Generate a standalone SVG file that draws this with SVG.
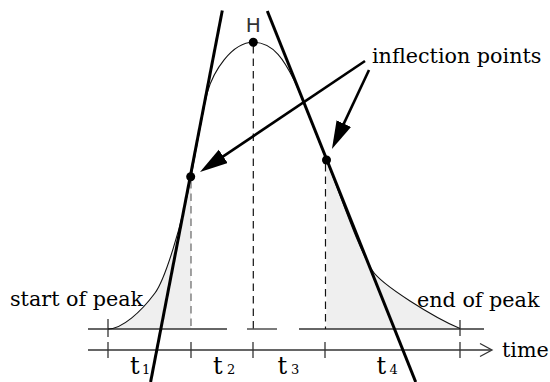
<svg xmlns="http://www.w3.org/2000/svg" width="550" height="382" viewBox="0 0 550 382">
<style>
.serif{font-family:"DejaVu Serif","Liberation Serif",serif;fill:#000;}
.lbl{font-size:20.7px;}
.tl{font-size:24px;}
.sub{font-size:13px;}
.axis{stroke:#333;stroke-width:1.3;fill:none;}
.dash{stroke:#111;stroke-width:1.2;stroke-dasharray:7.5 5;fill:none;}
.tan{stroke:#000;stroke-width:3;fill:none;}
.arr{stroke:#000;stroke-width:2.6;fill:none;}
.shade{fill:#efefef;stroke:none;}
.curve{stroke:#111;stroke-width:1.1;fill:none;}
</style>
<defs>
<marker id="head" markerUnits="userSpaceOnUse" markerWidth="30" markerHeight="18" refX="18" refY="8" orient="auto">
<path d="M0,0 L28,8 L0,16 Z" fill="#000"/>
</marker>
</defs>
<rect width="550" height="382" fill="#fff"/>
<g id="shading">
<path class="shade" d="M108,329 C122,329 141,311.9 155,293 C165,279.5 181.35,227 191,177 L191,329 Z"/>
<path class="shade" d="M326.5,160 C342.5,200 357,245 372,270 C381,285 435,318 460,328.5 L460,329 L326.5,329 Z"/>
</g>
<g id="axes">
<line class="axis" x1="88" y1="329" x2="227" y2="329"/>
<line class="axis" x1="247" y1="329" x2="277" y2="329"/>
<line class="axis" x1="299" y1="329" x2="484" y2="329"/>
<line class="axis" x1="88" y1="350" x2="491" y2="350"/>
<polyline class="axis" points="480,343.5 492,350 480,356.5"/>
<line class="axis" x1="108" y1="319" x2="108" y2="337"/>
<line class="axis" x1="460" y1="320" x2="460" y2="336"/>
<line class="axis" x1="108" y1="342" x2="108" y2="358"/>
<line class="axis" x1="191" y1="342" x2="191" y2="358"/>
<line class="axis" x1="253" y1="342" x2="253" y2="358"/>
<line class="axis" x1="325" y1="342" x2="325" y2="358"/>
<line class="axis" x1="460" y1="342" x2="460" y2="358"/>
</g>
<g id="dashed">
<line class="dash" x1="191" y1="181" x2="191" y2="329" style="stroke:#666"/>
<line class="dash" x1="253.3" y1="46" x2="253.3" y2="329"/>
<line class="dash" x1="325.5" y1="164" x2="325.5" y2="329"/>
</g>
<path id="peak-curve" class="curve" d="M108,329 C122,329 141,311.9 155,293 C165,279.5 181.35,227 191,177 C194.3,160 203.5,106 207.5,92 C213.2,72 231.3,42.3 253.3,42.3 C274,42.3 285,62 294,80 C298,88 310.5,120 326.5,160 C342.5,200 357,245 372,270 C381,285 435,318 460,328.5"/>
<g id="tangents">
<line class="tan" x1="222.3" y1="10.5" x2="150.6" y2="382"/>
<line class="tan" x1="267.3" y1="11" x2="415.7" y2="382"/>
</g>
<g id="points">
<circle cx="253.3" cy="42.3" r="4.5" fill="#000"/>
<circle cx="190.7" cy="176.7" r="4.5" fill="#000"/>
<circle cx="326.5" cy="160" r="4.5" fill="#000"/>
</g>
<g id="connectors">
<line class="arr" x1="365" y1="61" x2="208.3" y2="166.4" marker-end="url(#head)"/>
<line class="arr" x1="369" y1="70" x2="336.2" y2="139.9" marker-end="url(#head)"/>
</g>
<g id="labels">
<text x="253.3" y="32" text-anchor="middle" font-family="DejaVu Sans,Liberation Sans,sans-serif" font-size="20" fill="#333">H</text>
<text class="serif lbl" x="372" y="63">inflection points</text>
<text class="serif lbl" x="10" y="306">start of peak</text>
<text class="serif lbl" x="417" y="307">end of peak</text>
<text class="serif lbl" x="502" y="357">time</text>
<text class="serif tl" y="374"><tspan x="130">t</tspan><tspan class="sub" x="142">1</tspan></text>
<text class="serif tl" y="374"><tspan x="213">t</tspan><tspan class="sub" x="227">2</tspan></text>
<text class="serif tl" y="374"><tspan x="277.5">t</tspan><tspan class="sub" x="291">3</tspan></text>
<text class="serif tl" y="374"><tspan x="376.5">t</tspan><tspan class="sub" x="389.5">4</tspan></text>
</g>
</svg>
